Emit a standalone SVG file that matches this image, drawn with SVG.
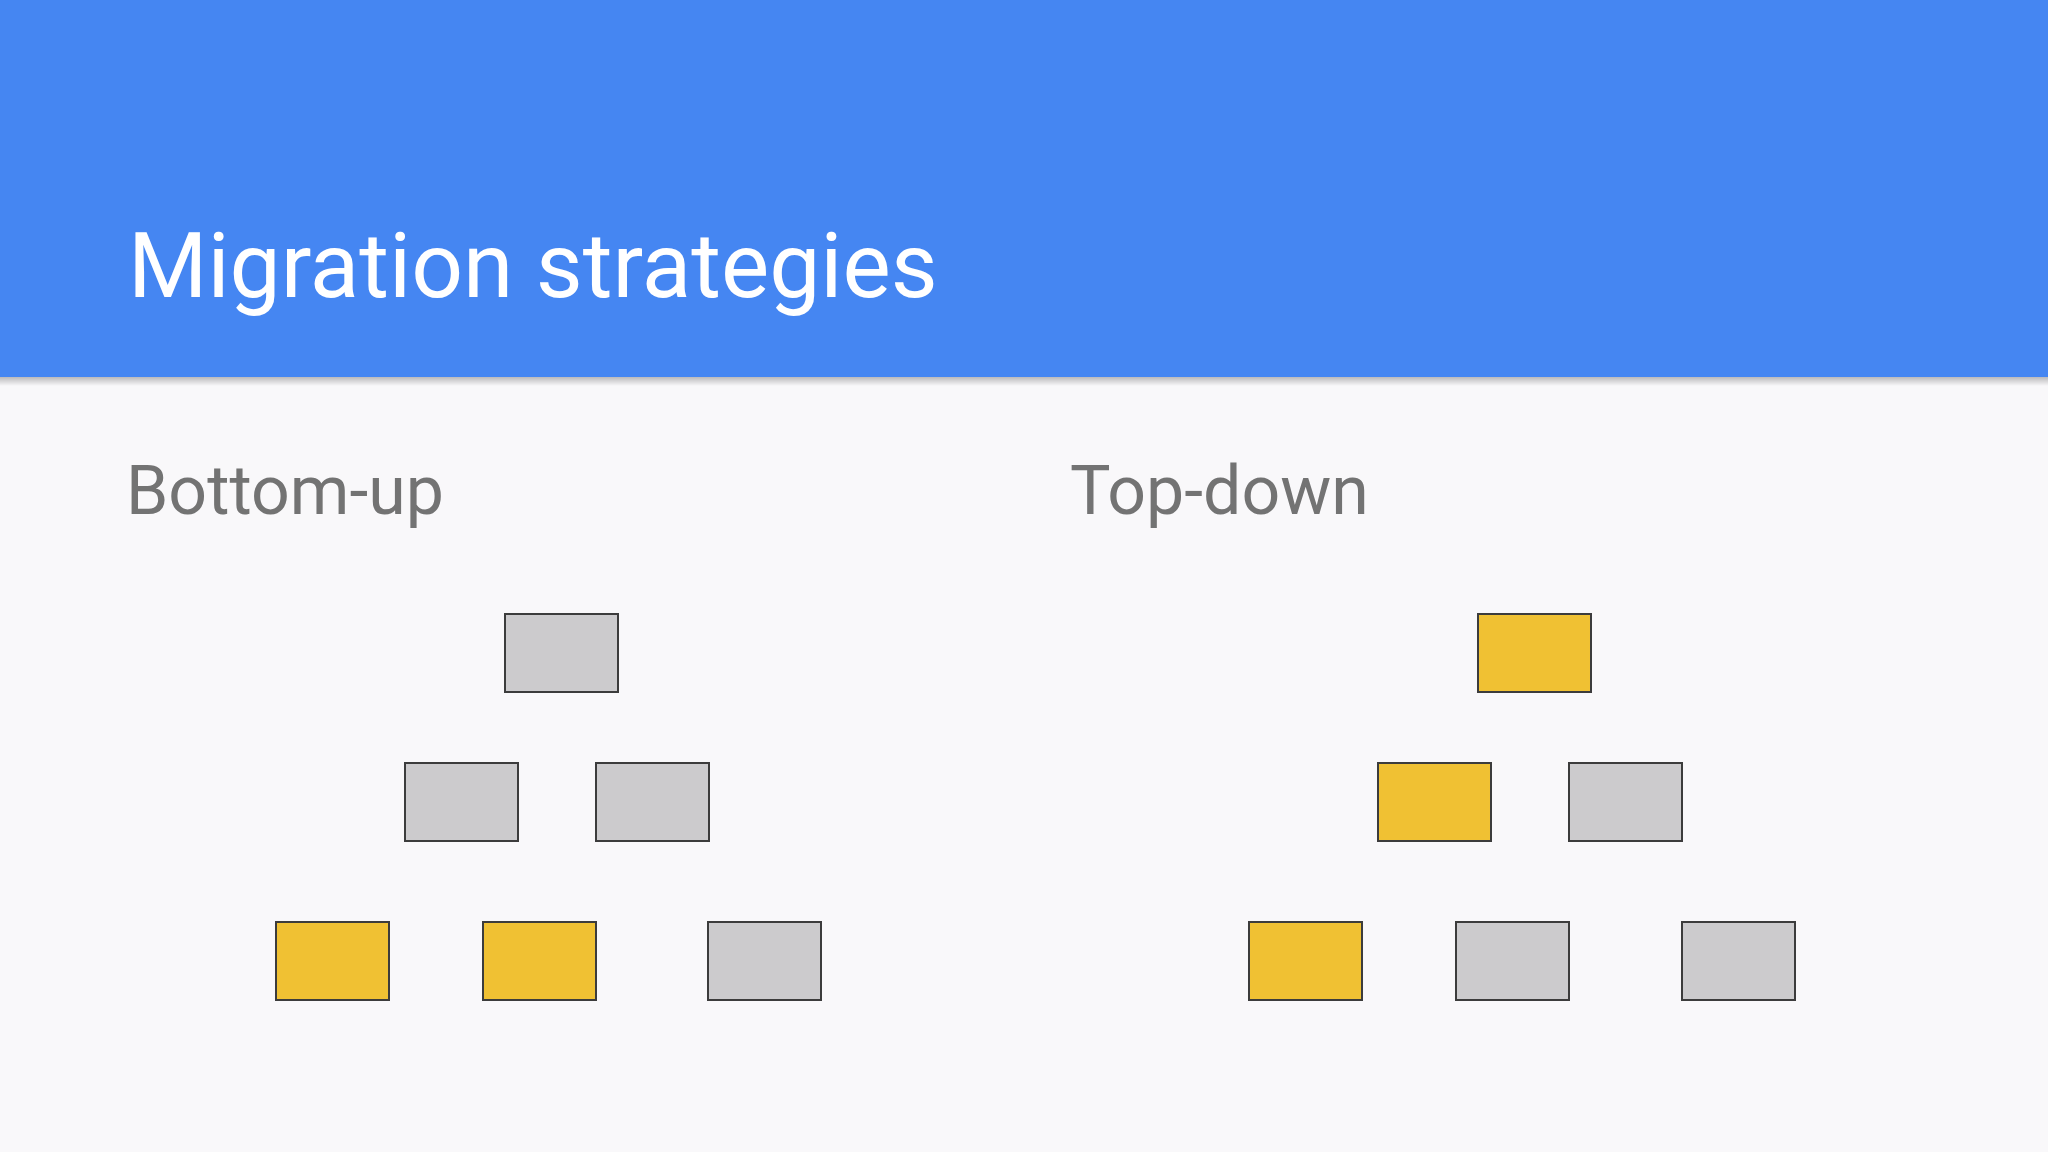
<svg xmlns="http://www.w3.org/2000/svg" width="2048" height="1152" viewBox="0 0 2048 1152">
<style>
.title{font-family:Roboto,"Liberation Sans",sans-serif;font-size:91px;fill:#ffffff}
.sub{font-family:Roboto,"Liberation Sans",sans-serif;font-size:68px;fill:#737373}
.box{stroke:#3c3c3c;stroke-width:2}
.gray{fill:#cccbcd}
.yellow{fill:#f0c133}
</style>
<defs>
<linearGradient id="shadow" x1="0" y1="0" x2="0" y2="1">
<stop offset="0" stop-color="#000" stop-opacity="0.28"/>
<stop offset="1" stop-color="#000" stop-opacity="0"/>
</linearGradient>
</defs>
<rect x="0" y="0" width="2048" height="1152" fill="#f9f8fa"/>
<rect x="0" y="376" width="2048" height="10" fill="url(#shadow)"/>
<rect x="0" y="0" width="2048" height="377" fill="#4586f2"/>
<text class="title" x="128" y="297">Migration strategies</text>
<text class="sub" x="126" y="514">Bottom-up</text>
<text class="sub" x="1070" y="514">Top-down</text>
<g id="bottom-up">
<rect id="bu-top" class="box gray" x="505" y="614" width="113" height="78"/>
<rect id="bu-mid-1" class="box gray" x="405" y="763" width="113" height="78"/>
<rect id="bu-mid-2" class="box gray" x="596" y="763" width="113" height="78"/>
<rect id="bu-bot-1" class="box yellow" x="276" y="922" width="113" height="78"/>
<rect id="bu-bot-2" class="box yellow" x="483" y="922" width="113" height="78"/>
<rect id="bu-bot-3" class="box gray" x="708" y="922" width="113" height="78"/>
</g>
<g id="top-down">
<rect id="td-top" class="box yellow" x="1478" y="614" width="113" height="78"/>
<rect id="td-mid-1" class="box yellow" x="1378" y="763" width="113" height="78"/>
<rect id="td-mid-2" class="box gray" x="1569" y="763" width="113" height="78"/>
<rect id="td-bot-1" class="box yellow" x="1249" y="922" width="113" height="78"/>
<rect id="td-bot-2" class="box gray" x="1456" y="922" width="113" height="78"/>
<rect id="td-bot-3" class="box gray" x="1682" y="922" width="113" height="78"/>
</g>
<g id="connectors"/>
</svg>
